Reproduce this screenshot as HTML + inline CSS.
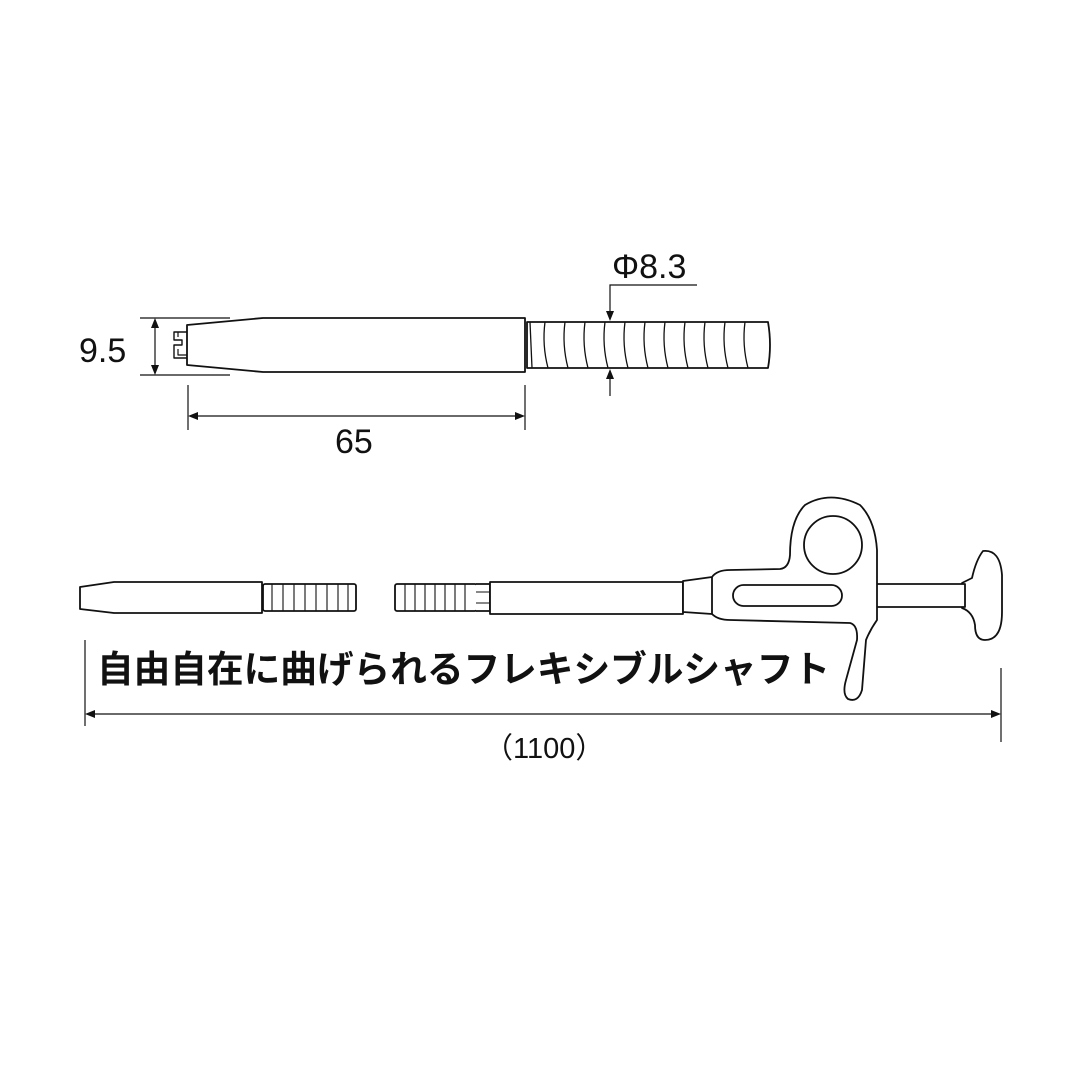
<!DOCTYPE html>
<html><head><meta charset="utf-8"><style>
html,body{margin:0;padding:0;background:#fff;}
svg{display:block}
</style></head><body>
<svg width="1080" height="1080" viewBox="0 0 1080 1080" xmlns="http://www.w3.org/2000/svg">
<g fill="#fff" stroke="#111" stroke-width="1.8" stroke-linejoin="round">
<path d="M187,325 L263,318 L525,318 L525,372 L263,372 L187,365 Z"/>
<path d="M187,332 L174,332 L174,340 L182,340 L182,345 L174,345 L174,358 L187,358" fill="none" stroke-width="1.4"/>
<path d="M178,332 L178,337 M178,349 L178,355 L187,355" fill="none" stroke-width="1.2"/>
<path d="M527,322 L768,322 Q772,345 768,368 L527,368 Z"/>
<g fill="none" stroke-width="1.3">
<path d="M530,322 L532,368"/>
<path d="M545,322 Q542,345 548,368"/><path d="M565,322 Q562,345 568,368"/>
<path d="M585,322 Q582,345 588,368"/><path d="M605,322 Q602,345 608,368"/>
<path d="M625,322 Q622,345 628,368"/><path d="M645,322 Q642,345 648,368"/>
<path d="M665,322 Q662,345 668,368"/><path d="M685,322 Q682,345 688,368"/>
<path d="M705,322 Q702,345 708,368"/><path d="M725,322 Q722,345 728,368"/>
<path d="M745,322 Q742,345 748,368"/>
</g>
</g>
<g stroke="#111" stroke-width="1.2" fill="none">
<line x1="140" y1="318" x2="230" y2="318"/><line x1="140" y1="375" x2="230" y2="375"/>
<line x1="155" y1="322" x2="155" y2="371"/>
<line x1="188" y1="385" x2="188" y2="430"/><line x1="525" y1="385" x2="525" y2="430"/>
<line x1="192" y1="416" x2="521" y2="416"/>
<polyline points="697,285 610,285 610,312"/>
<line x1="610" y1="378" x2="610" y2="396"/>
<line x1="85" y1="640" x2="85" y2="726"/><line x1="1001" y1="668" x2="1001" y2="742"/>
<line x1="90" y1="714" x2="996" y2="714"/>
</g>
<g fill="#111">
<path d="M155,318 L151,328 L159,328Z"/><path d="M155,375 L151,365 L159,365Z"/>
<path d="M188,416 L198,412 L198,420Z"/><path d="M525,416 L515,412 L515,420Z"/>
<path d="M610,321 L606,311 L614,311Z"/><path d="M610,369 L606,379 L614,379Z"/>
<path d="M85,714 L95,710 L95,718Z"/><path d="M1001,714 L991,710 L991,718Z"/>
</g>
<g font-family="Liberation Sans, sans-serif" font-size="34" fill="#111">
<text x="79" y="362">9.5</text>
<text x="335" y="453">65</text>
<text x="612" y="278">Φ8.3</text>
<text x="484" y="758" font-size="29">（1100）</text>
</g>
<g fill="#fff" stroke="#111" stroke-width="1.8" stroke-linejoin="round">
<path d="M80,587 L114,582 L262,582 L262,613 L114,613 L80,609 Z"/>
<rect x="263" y="584" width="93" height="27" rx="2"/>
<rect x="395" y="584" width="82" height="27" rx="2"/>
<path d="M476,584 L490,584 L490,611 L476,611" />
<line x1="476" y1="592" x2="490" y2="592" stroke-width="1"/><line x1="476" y1="603" x2="490" y2="603" stroke-width="1"/>
<rect x="490" y="582" width="193" height="32"/>
<path d="M962,583 L972,578 Q976,560 983,551 Q1000,549 1002,575 L1002,612 Q1002,640 985,640 Q975,640 975,625 Q973,612 962,608 Z"/>
<rect x="875" y="584" width="90" height="23"/>
<path d="M683,581 L712,577 Q717,570 730,570 L780,569 Q789,568 790,555 Q790,520 805,505 Q830,490 860,505 Q875,520 877,550 L877,620 Q870,630 866,640 L862,690 Q858,703 848,699 Q842,694 846,680 L857,640 Q858,625 850,623 L730,620 Q718,620 712,614 L683,612 Z"/>
<line x1="712" y1="577" x2="712" y2="614"/>
<circle cx="833" cy="545" r="29"/>
<rect x="733" y="585" width="109" height="21" rx="10.5"/>
</g>
<g stroke="#111" stroke-width="1.1">
<line x1="272" y1="584" x2="272" y2="611"/><line x1="283" y1="584" x2="283" y2="611"/>
<line x1="294" y1="584" x2="294" y2="611"/><line x1="305" y1="584" x2="305" y2="611"/>
<line x1="316" y1="584" x2="316" y2="611"/><line x1="327" y1="584" x2="327" y2="611"/>
<line x1="338" y1="584" x2="338" y2="611"/><line x1="348" y1="584" x2="348" y2="611"/>
<line x1="405" y1="584" x2="405" y2="611"/><line x1="415" y1="584" x2="415" y2="611"/>
<line x1="425" y1="584" x2="425" y2="611"/><line x1="435" y1="584" x2="435" y2="611"/>
<line x1="445" y1="584" x2="445" y2="611"/><line x1="455" y1="584" x2="455" y2="611"/>
<line x1="465" y1="584" x2="465" y2="611"/>
</g>
<text x="97" y="682" font-family="Liberation Sans, 'Noto Sans CJK JP', sans-serif" font-size="36.7" font-weight="bold" fill="#111" textLength="733" lengthAdjust="spacingAndGlyphs">自由自在に曲げられるフレキシブルシャフト</text>
</svg>
</body></html>
